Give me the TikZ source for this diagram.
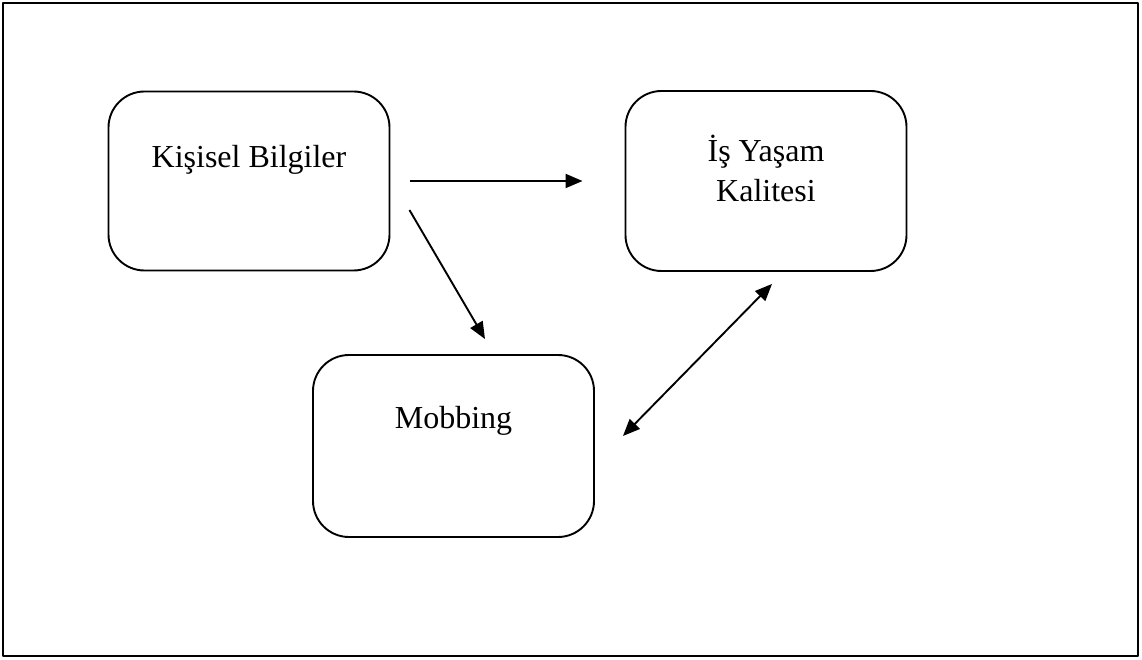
\documentclass[tikz,border=0pt]{standalone}
\usepackage{fontspec}
\setmainfont{Liberation Serif}
\usetikzlibrary{arrows.meta, positioning, calc}
\tikzset{
	box/.style={draw, line width=1.9pt, rounded corners=36pt, minimum width=281pt, minimum height=179pt, inner sep=0pt},
	boxtext/.style={font=\fontsize{32}{40}\selectfont, align=center, inner sep=0pt},
	arr/.style={line width=1.9pt, -{Triangle[length=17pt,width=14pt]}},
	dblarr/.style={line width=1.9pt, {Triangle[length=17pt,width=14pt]}-{Triangle[length=17pt,width=14pt]}}
}

\begin{document}
\begin{tikzpicture}[x=1pt,y=1pt,line join=round]
		\useasboundingbox (0,0) rectangle (1142,659);
		\draw[line width=1.4pt] (3,3) rectangle (1138,656);
		% boxes
		\node[box] (kb)  at (249,478) {};
		\node[box, minimum height=180pt] (iyk) at (766,478) {};
		\node[box, minimum height=182pt] (mob) at (453.5,213) {};
		\node[boxtext] (kbt)  at ([yshift=21]kb.center) {Kişisel Bilgiler};
		\node[boxtext] (iykt) at ([yshift=13]iyk.center) {İş Yaşam\\Kalitesi};
		\node[boxtext] (mobt) at ([yshift=25]mob.center) {Mobbing};
		% connectors
		\draw[arr, shorten <=20pt, shorten >=42pt] (kb.east) -- (iyk.west);
		\coordinate (d1) at ([shift={(19,-29)}]kb.east);
		\coordinate (d2) at ([shift={(31.5,15)}]mob.north);
		\draw[arr] (d1) -- (d2);
		\coordinate (m1) at ([shift={(28,10)}]mob.east);
		\coordinate (m2) at ([shift={(6,-12)}]iyk.south);
		\draw[dblarr] (m1) -- (m2);
	\end{tikzpicture}
\end{document}
